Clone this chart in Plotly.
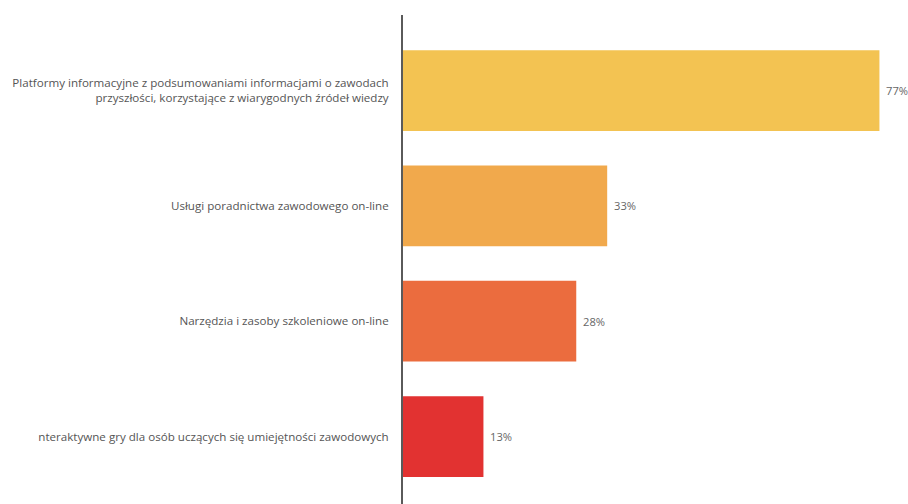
import plotly.graph_objects as go

categories = [
    "Platformy informacyjne z podsumowaniami informacjami o zawodach<br>przyszłości, korzystające z wiarygodnych źródeł wiedzy",
    "Usługi poradnictwa zawodowego on-line",
    "Narzędzia i zasoby szkoleniowe on-line",
    "nteraktywne gry dla osób uczących się umiejętności zawodowych",
]
values = [77, 33, 28, 13]
colors = ["#F3C352", "#F1A94C", "#EB6C3E", "#E23231"]

fig = go.Figure(
    go.Bar(
        x=values,
        y=categories,
        orientation="h",
        marker=dict(color=colors, line=dict(width=0)),
        hoverinfo="skip",
    )
)

for cat, val in zip(categories, values):
    fig.add_annotation(
        x=val, y=cat, text=f"{val}%", showarrow=False,
        xanchor="left", xshift=5,
        font=dict(family="Open Sans", size=11.2, color="#666666"),
    )

fig.update_layout(
    width=908, height=504,
    margin=dict(l=403, r=10, t=15, b=0),
    paper_bgcolor="white", plot_bgcolor="white",
    bargap=0.3,
    showlegend=False,
    font=dict(family="Open Sans", size=11.6, color="#555555"),
)
fig.update_xaxes(range=[0, 80], visible=False, showgrid=False, zeroline=False)
fig.update_yaxes(
    type="category",
    categoryorder="array", categoryarray=categories,
    range=[3.585, -0.655],
    showline=True, linecolor="#5a5a5a", linewidth=2,
    showgrid=False, zeroline=False,
    ticks="outside", ticklen=10, tickcolor="rgba(0,0,0,0)",
    tickfont=dict(family="Open Sans", size=11.6, color="#555555"),
)

fig.write_html("out.html")
